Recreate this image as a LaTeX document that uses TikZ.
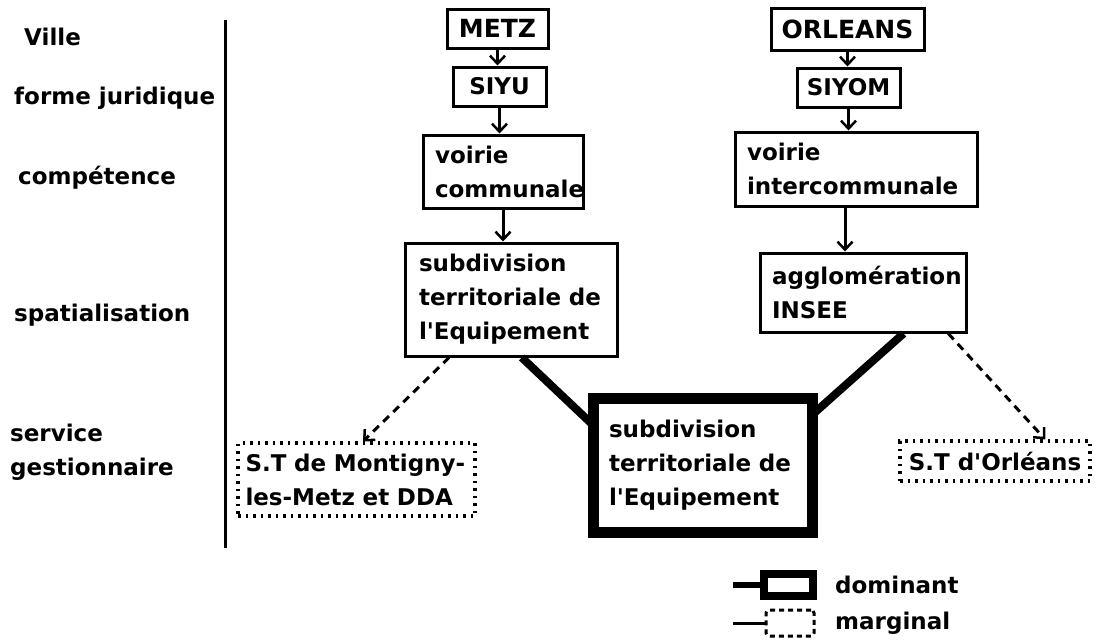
\documentclass[tikz,border=0pt]{standalone}
\usepackage{fontspec}
\setmainfont{DejaVu Sans}[BoldFont={DejaVu Sans Bold}]
\usetikzlibrary{arrows.meta,calc}
\begin{document}
\begin{tikzpicture}[x=1pt,y=-1pt,
  every node/.style={font=\fontsize{23}{34}\selectfont\bfseries},
  lbl/.style={anchor=west,inner sep=0pt,align=left},
  box/.style={draw,line width=3pt,inner sep=0pt,align=left},
  cbox/.style={draw,line width=3pt,inner sep=0pt,align=center},
  dombox/.style={draw,line width=11pt,inner sep=0pt,align=left},
  margbox/.style={draw,line width=3.2pt,dash pattern=on 2.5pt off 5pt,inner sep=0pt,align=left},
  arr/.style={line width=3pt,-{Straight Barb[length=8pt,width=15pt,line width=2.5pt]}},
  darr/.style={line width=3pt,dash pattern=on 8pt off 6pt,-{Straight Barb[length=8pt,width=15pt,line width=2.5pt]}},
  domline/.style={line width=8pt},
]
\useasboundingbox (0,0) rectangle (1102,643);

% left labels
\node[lbl] (lville) at (24,37) {Ville};
\node[lbl] (lforme) at (14,98) {forme juridique};
\node[lbl] (lcomp) at (18,178) {compétence};
\node[lbl] (lspat) at (14,315) {spatialisation};
\node[lbl] (lserv) at (10,452) {service\\gestionnaire};
\coordinate (vtop) at (225,20);
\coordinate (vbot) at (225,548);
\draw[line width=3pt] (vtop) -- (vbot);

% Metz column
\node[cbox,minimum width=101pt,minimum height=39pt,font=\fontsize{25}{34}\selectfont\bfseries] (metz) at (497.5,28.5) {METZ};
\node[cbox,minimum width=93pt,minimum height=39pt] (siyu) at (499.5,86.5) {SIYU};
\node[box,minimum width=160pt,minimum height=73pt,text width=136pt] (vc) at (503,171.5) {voirie\\communale};
\node[box,minimum width=212pt,minimum height=113pt,text width=184pt] (sub) at (511,299.5) {subdivision\\territoriale de\\l\textquotesingle Equipement};

% Orleans column
\node[cbox,minimum width=153pt,minimum height=42pt,font=\fontsize{25}{34}\selectfont\bfseries] (orl) at (847.5,29) {ORLEANS};
\node[cbox,minimum width=103pt,minimum height=39pt] (siyom) at (848.5,87.5) {SIYOM};
\node[box,minimum width=242pt,minimum height=74pt,text width=218pt] (vi) at (856,169) {voirie\\intercommunale};
\node[box,minimum width=206pt,minimum height=79pt,text width=182pt] (agg) at (863,292.5) {agglomération\\INSEE};

% service nodes
\node[margbox,minimum width=237pt,minimum height=73pt,text width=222pt] (mont) at (356.5,479.5) {S.T de Montigny-\\les-Metz et DDA};
\node[margbox,minimum width=190pt,minimum height=40pt,align=center] (stor) at (995,461) {S.T d\textquotesingle Orléans};

% thick connectors (drawn under central box)
\draw[domline] ($(sub.south west)!0.55!(sub.south east)$) -- ($(703,465.5)+(-109.5,-40)$) coordinate (cl);
\draw[domline] ($(agg.south west)!0.694!(agg.south east)$) -- ($(703,465.5)+(109.5,-51)$) coordinate (cr);
\node[dombox,fill=white,minimum width=219pt,minimum height=134pt,text width=188pt] (cent) at (703,465.5) {subdivision\\territoriale de\\l\textquotesingle Equipement};

% arrows
\draw[arr] (metz.south) -- (metz.south |- siyu.north);
\draw[arr] (siyu.south) -- (siyu.south |- vc.north);
\draw[arr] (vc.south) -- (vc.south |- sub.north);
\draw[arr] (orl.south) -- (orl.south |- siyom.north);
\draw[arr] (siyom.south) -- (siyom.south |- vi.north);
\draw[arr] ([xshift=-11pt]vi.south) -- ([xshift=-11pt]vi.south |- agg.north);

% dashed arrows
\draw[darr] ($(agg.south west)!0.908!(agg.south east)$) -- ($(stor.north west)!0.76!(stor.north east)$);
\draw[darr] ($(sub.south west)!0.212!(sub.south east)$) -- ($(mont.north west)!0.527!(mont.north east)$);

% legend
\node[draw,line width=8pt,minimum width=49pt,minimum height=22pt,inner sep=0pt] (ldom) at (788.5,585) {};
\coordinate (ldoms) at (733,585);
\draw[line width=6pt] (ldoms) -- (ldom.west);
\node[lbl] (tdom) at (835,585) {dominant};
\node[draw,line width=3pt,dash pattern=on 5pt off 4pt,rounded corners=3pt,minimum width=48pt,minimum height=26pt,inner sep=0pt] (lmar) at (790,623) {};
\coordinate (lmars) at (733,623);
\draw[line width=3pt] (lmars) -- (lmar.west);
\node[lbl] (tmar) at (835,623) {marginal};
\end{tikzpicture}
\end{document}
